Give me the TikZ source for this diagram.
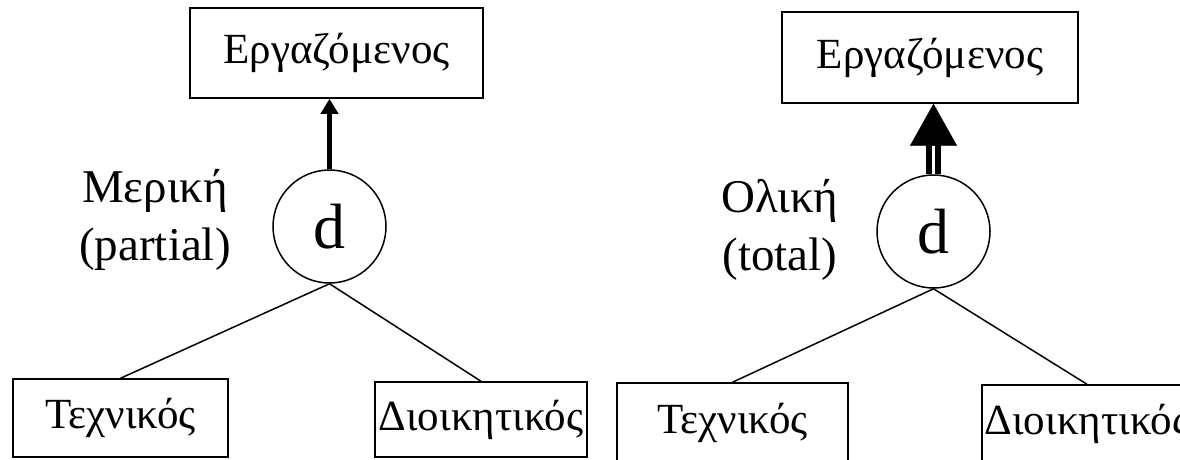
\documentclass[tikz,border=0pt]{standalone}
\usepackage{fontspec}
\setmainfont{Liberation Serif}
\usetikzlibrary{arrows.meta}
\begin{document}
\begin{tikzpicture}[x=1pt,y=-1pt,
  box/.style={draw, line width=1.5pt, inner sep=0pt, font=\fontsize{43}{50}\selectfont},
  disc/.style={draw, circle, line width=1.5pt, minimum size=113pt, inner sep=0pt, font=\fontsize{64}{70}\selectfont},
  lbl/.style={align=center, inner sep=0pt, font=\fontsize{47}{58}\selectfont},
  edge/.style={line width=1.5pt}]
\useasboundingbox (0,0) rectangle (1180,459);
% left diagram
\node[box, minimum width=293pt, minimum height=90pt] (b1) at (336.5,53) {Εργαζόμενος};
\node[disc] (c1) at (329.5,226.5) {d};
\node[box, minimum width=215pt, minimum height=78pt] (t1) at (120.5,418) {Τεχνικός};
\node[box, minimum width=212pt, minimum height=75pt] (d1) at (481,419.5) {Διοικητικός};
\node[lbl] (l1) at (155,220) {Μερική\\(partial)};
\draw[line width=5pt, -{Triangle[width=17pt,length=15pt]}] (c1.north) -- (c1.north |- b1.south);
\draw[edge] (c1.south) -- (t1.north);
\draw[edge] (c1.south) -- (d1.north);
% right diagram
\node[box, minimum width=296pt, minimum height=91pt] (b2) at (930,57.5) {Εργαζόμενος};
\node[disc] (c2) at (933.5,231.5) {d};
\node[box, minimum width=231pt, minimum height=79pt] (t2) at (732.5,422.5) {Τεχνικός};
\node[box, minimum width=210pt, minimum height=77pt] (d2) at (1087,423.5) {Διοικητικός};
\node[lbl] (l2) at (780,230) {Ολική\\(total)};
\coordinate (tb) at (933.5,145);
\draw[line width=6pt, double, double distance=3pt] (c2.north) -- (c2.north |- tb);
\draw[line width=0.1pt, -{Triangle[width=47pt,length=42pt]}] (c2.north |- tb) -- (c2.north |- b2.south);
\draw[edge] (c2.south) -- (t2.north);
\draw[edge] (c2.south) -- (d2.north);
\end{tikzpicture}
\end{document}
